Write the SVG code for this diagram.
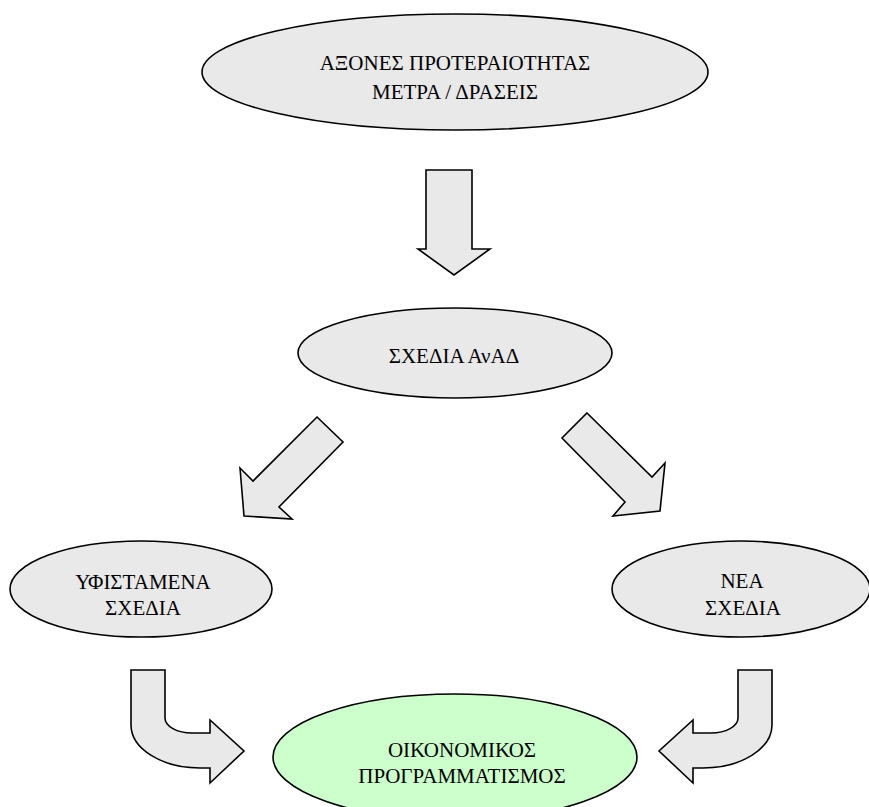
<svg xmlns="http://www.w3.org/2000/svg" width="869" height="807" viewBox="0 0 869 807" font-family="'Liberation Serif', 'Times New Roman', serif">
<style>
.node{fill:#e9e9e9;stroke:#000;stroke-width:1.6}
.green{fill:#ccffcc;stroke:#000;stroke-width:1.6}
.arrow{fill:#e9e9e9;stroke:#000;stroke-width:1.6;stroke-linejoin:miter}
.t{font-family:'Liberation Serif','Times New Roman',serif;font-size:21px;fill:#000;text-anchor:middle}
</style>
<rect width="869" height="807" fill="#fff"/>
<g id="axones">
<ellipse class="node" cx="455" cy="72" rx="253" ry="58"/>
<text class="t" x="455" y="70">ΑΞΟΝΕΣ ΠΡΟΤΕΡΑΙΟΤΗΤΑΣ</text>
<text class="t" x="455" y="99">ΜΕΤΡΑ / ΔΡΑΣΕΙΣ</text>
</g>
<g id="sxedia">
<ellipse class="node" cx="455" cy="353" rx="157" ry="45"/>
<text class="t" x="454" y="363">ΣΧΕΔΙΑ ΑνΑΔ</text>
</g>
<g id="yfistamena">
<ellipse class="node" cx="141" cy="589" rx="131" ry="48"/>
<text class="t" x="143" y="589">ΥΦΙΣΤΑΜΕΝΑ</text>
<text class="t" x="143" y="615">ΣΧΕΔΙΑ</text>
</g>
<g id="nea">
<ellipse class="node" cx="741" cy="589" rx="129" ry="48"/>
<text class="t" x="742" y="588">ΝΕΑ</text>
<text class="t" x="743" y="615">ΣΧΕΔΙΑ</text>
</g>
<g id="oikonomikos">
<ellipse class="green" cx="455" cy="757" rx="182" ry="63"/>
<text class="t" x="462" y="757">ΟΙΚΟΝΟΜΙΚΟΣ</text>
<text class="t" x="462" y="783">ΠΡΟΓΡΑΜΜΑΤΙΣΜΟΣ</text>
</g>
<g id="connectors">
<path class="arrow" d="M426,170 L472,170 L472,249 L490,249 L454,275 L418,249 L426,249 Z"/>
<path class="arrow" d="M317,417 L343,442 L279,507 L292,519 L244,516 L240,468 L253,481 Z"/>
<path class="arrow" d="M587,413 L652,477 L665,463 L660,511 L613,516 L625,502 L562,438 Z"/>
<path class="arrow" d="M131,670 L165,670 L165,718 A27 15 0 0 0 192,733 L210,733 L210,720 L244,751 L210,783 L210,768 L200,768 A69 43 0 0 1 131,725 Z"/>
<path class="arrow" transform="matrix(-1 0 0 1 903 0)" d="M131,670 L165,670 L165,718 A27 15 0 0 0 192,733 L210,733 L210,720 L244,751 L210,783 L210,768 L200,768 A69 43 0 0 1 131,725 Z"/>
</g>
</svg>
